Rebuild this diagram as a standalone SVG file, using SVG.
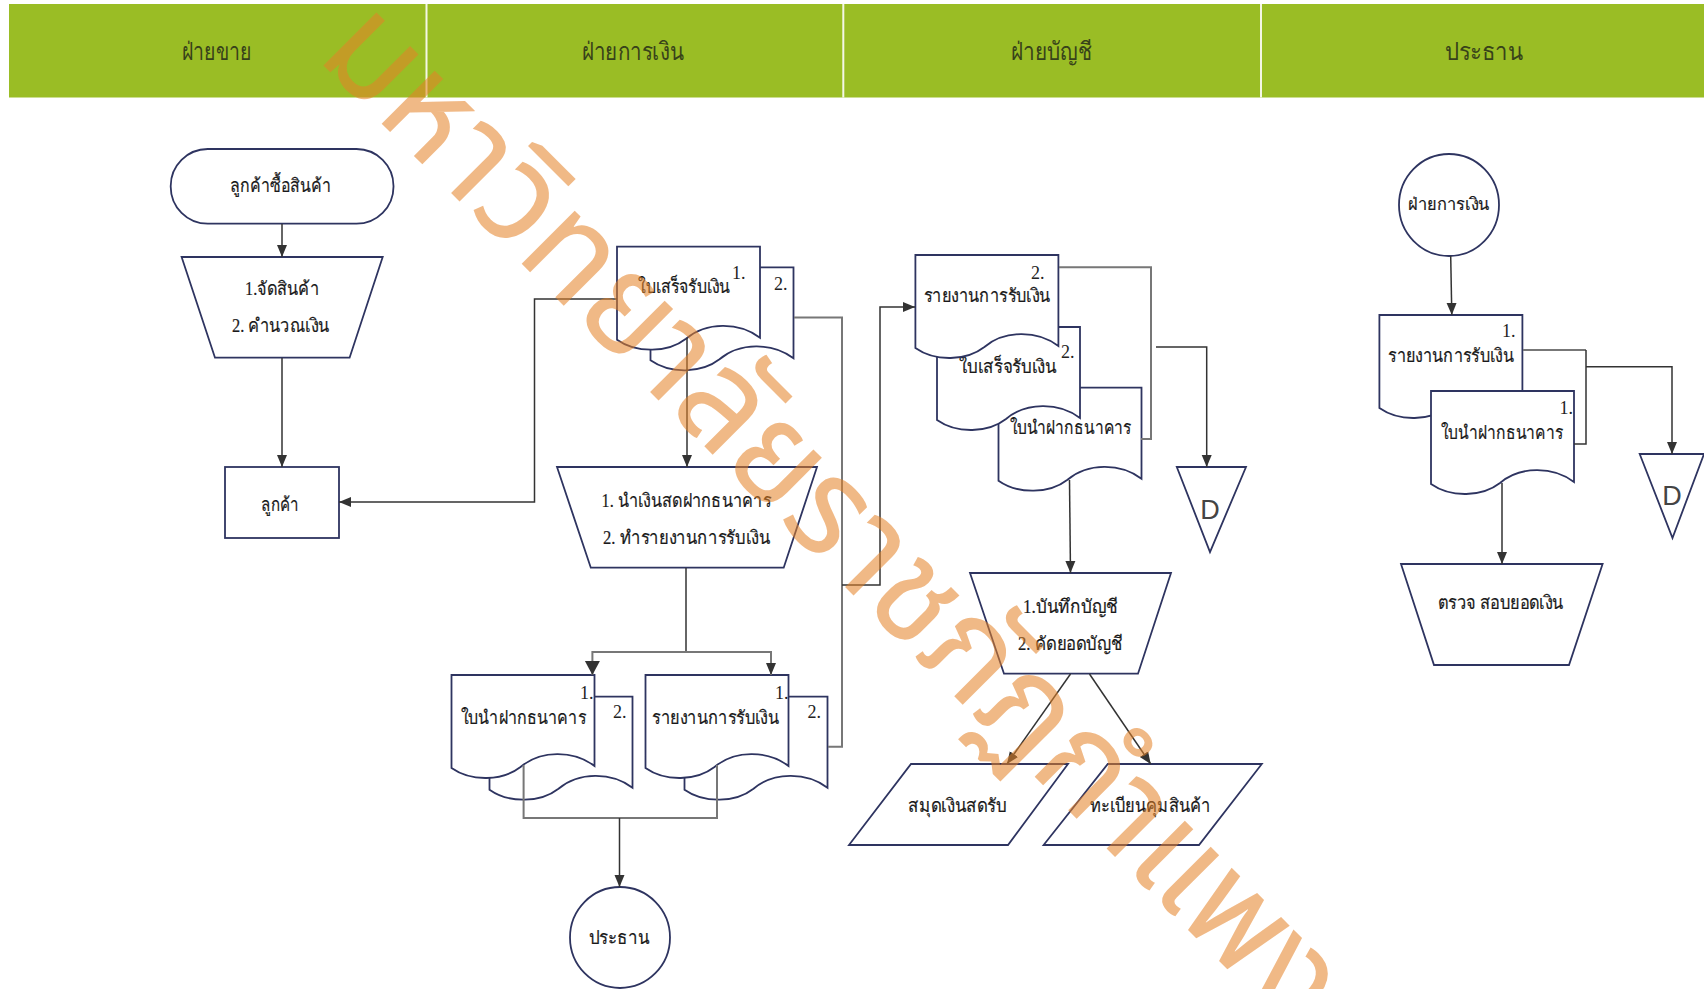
<svg xmlns="http://www.w3.org/2000/svg" width="1704" height="989" viewBox="0 0 1704 989">
<style>
.n{fill:#fff;stroke:#2e3460;stroke-width:1.8}
.t{font-family:"Liberation Serif","Noto Sans",serif;font-size:19px;fill:#1a1a1a;stroke:#1a1a1a;stroke-width:.2}
.num{font-family:"Liberation Serif",serif;font-size:18px;fill:#222}
.h{font-family:"Liberation Serif","Noto Sans",serif;font-size:25px;fill:#37421a}
.d{font-family:"Liberation Sans",sans-serif;font-size:27px;fill:#444;text-anchor:middle}
.c{fill:none;stroke:#333;stroke-width:1.5}
.g{fill:none;stroke:#777;stroke-width:2}
.w{font-family:"Noto Sans Thai UI","Noto Sans Thai","Sarabun","Kanit","Prompt","Loma","Garuda","Waree","Tahoma",sans-serif;font-size:145px;fill:#e58327;fill-opacity:.56}
</style>
<defs>
<marker id="a" markerUnits="userSpaceOnUse" markerWidth="12" markerHeight="12" refX="12" refY="6" orient="auto"><path d="M0,1 L12,6 L0,11 Z" fill="#333"/></marker>
<marker id="b" markerUnits="userSpaceOnUse" markerWidth="14" markerHeight="16" refX="14" refY="8" orient="auto"><path d="M0,0.5 L14,8 L0,15.5 Z" fill="#333"/></marker>
<path id="doc" class="n" d="M0,93 V0 H143 V91 C122,75 89,75 69,92 C51,106 20,107 0,93 Z"/>
</defs>
<rect width="1704" height="989" fill="#fff"/>
<g id="header">
<rect x="9" y="4" width="1695" height="93.5" fill="#9abd25"/>
<path d="M426.5,4 V97.5 M843.3,4 V97.5 M1261,4 V97.5" stroke="#f4f7e6" stroke-width="2" fill="none"/>
<text class="h" x="181.6" y="60" textLength="70" lengthAdjust="spacingAndGlyphs">ฝ่ายขาย</text>
<text class="h" x="581.6" y="60" textLength="102" lengthAdjust="spacingAndGlyphs">ฝ่ายการเงิน</text>
<text class="h" x="1010.6" y="60" textLength="81.5" lengthAdjust="spacingAndGlyphs">ฝ่ายบัญชี</text>
<text class="h" x="1444.7" y="60" textLength="78" lengthAdjust="spacingAndGlyphs">ประธาน</text>
</g>
<g id="start"><rect class="n" x="170.7" y="149" width="222.8" height="74.7" rx="37" ry="37"/><text class="t" x="230" y="192" textLength="101" lengthAdjust="spacingAndGlyphs">ลูกค้าซื้อสินค้า</text></g>
<g id="pick"><path class="n" d="M181.6,257 H382.7 L349.6,357.7 H215 Z"/><text class="t" x="245" y="295" textLength="74" lengthAdjust="spacingAndGlyphs">1.จัดสินค้า</text><text class="t" x="232" y="332" textLength="97.5" lengthAdjust="spacingAndGlyphs">2. คำนวณเงิน</text></g>
<g id="customer"><rect class="n" x="225" y="467" width="114" height="71"/><text class="t" x="261" y="511" textLength="38" lengthAdjust="spacingAndGlyphs">ลูกค้า</text></g>
<g id="receipt"><use href="#doc" x="650.5" y="267.3"/><use href="#doc" x="617" y="246.7"/><text class="t" x="638" y="293" textLength="92" lengthAdjust="spacingAndGlyphs">ใบเสร็จรับเงิน</text><text class="num" x="732" y="279">1.</text><text class="num" x="774" y="290">2.</text></g>
<g id="deposit-step"><path class="n" d="M557,467 H817 L783.7,567.7 H590.8 Z"/><text class="t" x="601.6" y="506.7" textLength="169.5" lengthAdjust="spacingAndGlyphs">1. นำเงินสดฝากธนาคาร</text><text class="t" x="603" y="544" textLength="167" lengthAdjust="spacingAndGlyphs">2. ทำรายงานการรับเงิน</text></g>
<g id="deposit-slip"><use href="#doc" x="489.5" y="696.7"/><use href="#doc" x="451.5" y="675"/><text class="t" x="460.7" y="724" textLength="125.3" lengthAdjust="spacingAndGlyphs">ใบนำฝากธนาคาร</text><text class="num" x="580" y="699">1.</text><text class="num" x="613" y="718">2.</text></g>
<g id="report"><use href="#doc" x="684.5" y="696.7"/><use href="#doc" x="645.5" y="675"/><text class="t" x="652" y="724" textLength="127.4" lengthAdjust="spacingAndGlyphs">รายงานการรับเงิน</text><text class="num" x="775" y="699">1.</text><text class="num" x="807.6" y="718">2.</text></g>
<g id="president"><ellipse class="n" cx="620" cy="937.5" rx="50" ry="50.5"/><text class="t" x="588.6" y="944" textLength="60.7" lengthAdjust="spacingAndGlyphs">ประธาน</text></g>
<g id="acc-docs"><use href="#doc" x="998.5" y="387.7"/><text class="t" x="1009.6" y="434" textLength="122" lengthAdjust="spacingAndGlyphs">ใบนำฝากธนาคาร</text><use href="#doc" x="937" y="327"/><text class="t" x="959" y="373" textLength="98" lengthAdjust="spacingAndGlyphs">ใบเสร็จรับเงิน</text><text class="num" x="1061" y="358">2.</text><use href="#doc" x="915.4" y="255"/><text class="t" x="923.5" y="302" textLength="127" lengthAdjust="spacingAndGlyphs">รายงานการรับเงิน</text><text class="num" x="1031" y="279">2.</text></g>
<g id="d1"><path class="n" d="M1176.8,467 H1246 L1210,552 Z"/><text class="d" x="1210" y="519">D</text></g>
<g id="post"><path class="n" d="M970,573 H1171 L1138,673.7 H1004 Z"/><text class="t" x="1023" y="612.7" textLength="95" lengthAdjust="spacingAndGlyphs">1.บันทึกบัญชี</text><text class="t" x="1018" y="650" textLength="104.5" lengthAdjust="spacingAndGlyphs">2. คัดยอดบัญชี</text></g>
<g id="cashbook"><path class="n" d="M911,764 H1068 L1008,845 H849 Z"/><text class="t" x="908.4" y="811.7" textLength="98.6" lengthAdjust="spacingAndGlyphs">สมุดเงินสดรับ</text></g>
<g id="ledger"><path class="n" d="M1107.8,764 H1261.8 L1199,845 H1043.6 Z"/><text class="t" x="1089.8" y="811.7" textLength="121.2" lengthAdjust="spacingAndGlyphs">ทะเบียนคุมสินค้า</text></g>
<g id="finance"><ellipse class="n" cx="1449" cy="205" rx="50" ry="51"/><text class="t" x="1408" y="210" style="font-size:17px" textLength="82" lengthAdjust="spacingAndGlyphs">ฝ่ายการเงิน</text></g>
<g id="pres-docs"><use href="#doc" x="1379.4" y="315"/><text class="t" x="1388" y="362" textLength="126" lengthAdjust="spacingAndGlyphs">รายงานการรับเงิน</text><text class="num" x="1502" y="337">1.</text><use href="#doc" x="1431" y="391"/><text class="t" x="1441" y="439" textLength="122.4" lengthAdjust="spacingAndGlyphs">ใบนำฝากธนาคาร</text><text class="num" x="1559.6" y="414">1.</text></g>
<g id="d2"><path class="n" d="M1639.7,454 H1704 L1672.5,538 Z"/><text class="d" x="1672" y="505">D</text></g>
<g id="check"><path class="n" d="M1401,564 H1602.6 L1569,665 H1434 Z"/><text class="t" x="1437.8" y="609" textLength="125.7" lengthAdjust="spacingAndGlyphs">ตรวจ สอบยอดเงิน</text></g>
<g id="connectors">
<path class="c" marker-end="url(#a)" d="M282,224 V257"/>
<path class="c" marker-end="url(#a)" d="M282,358 V467"/>
<path class="c" marker-end="url(#a)" d="M617,299 H534.5 V502 H339"/>
<path class="c" marker-end="url(#a)" d="M687,338 V467"/>
<path class="g" d="M794,317.5 H842 V746.7 H828"/>
<path class="c" marker-end="url(#a)" d="M842,585 H880 V307 H915"/>
<path class="c" d="M686,568 V652"/>
<path class="g" marker-end="url(#b)" d="M686,652 H592.4 V675"/>
<path class="g" marker-end="url(#a)" d="M686,652 H771 V675"/>
<path class="g" d="M523.6,765 V818 H717 V765"/>
<path class="c" marker-end="url(#a)" d="M619.5,818 V887"/>
<path class="g" d="M1059,267.3 H1151 V439 H1141"/>
<path class="c" marker-end="url(#a)" d="M1156,347 H1206.7 V467"/>
<path class="c" marker-end="url(#a)" d="M1069.5,480 L1070.5,573"/>
<path class="c" marker-end="url(#a)" d="M1070.5,674 L1007,764"/>
<path class="c" marker-end="url(#a)" d="M1089.5,674 L1150.7,764"/>
<path class="c" marker-end="url(#a)" d="M1450.7,256 L1451.8,315"/>
<path class="g" d="M1523,350 H1586"/>
<path class="c" d="M1586,350 V444 H1574"/>
<path class="c" marker-end="url(#a)" d="M1586,366.7 H1672 V454"/>
<path class="c" marker-end="url(#a)" d="M1502,483 V564"/>
</g>
<text class="w" transform="translate(315,57) rotate(45)" textLength="1650" lengthAdjust="spacingAndGlyphs">มหาวิทยาลัยราชภัฏกำแพงเพชร</text>
</svg>
